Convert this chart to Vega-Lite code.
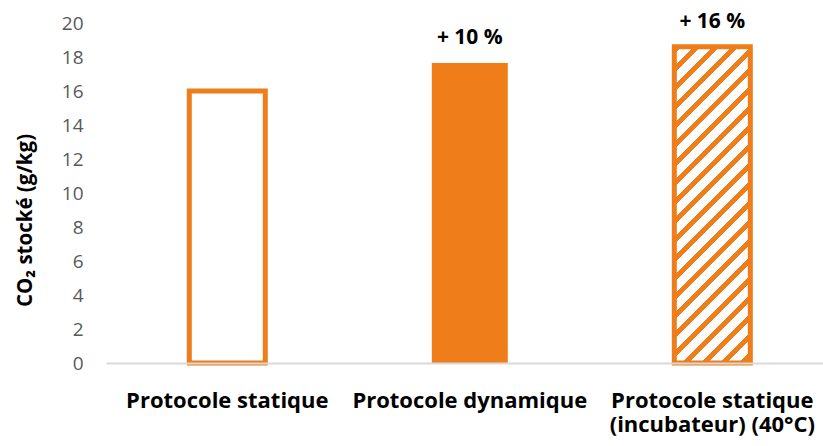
{
  "$schema": "https://vega.github.io/schema/vega-lite/v6.json",
  "width": 717,
  "height": 340,
  "autosize": {"type": "none"},
  "padding": {"left": 106, "top": 23, "right": 0, "bottom": 83},
  "background": "white",
  "config": {"view": {"stroke": null}, "font": "Open Sans"},
  "data": {"values": [
    {"protocole": "Protocole statique", "co2": 16.0, "label": ""},
    {"protocole": "Protocole dynamique", "co2": 17.65, "label": "+ 10 %"},
    {"protocole": "Protocole statique (incubateur) (40°C)", "co2": 18.6, "label": "+ 16 %"}
  ]},
  "encoding": {
    "x": {
      "field": "protocole", "type": "nominal", "sort": null,
      "scale": {"domain": ["Protocole statique", "Protocole dynamique", "Protocole statique (incubateur) (40°C)"], "paddingInner": 0.6866, "paddingOuter": 0.3216, "align": 0.534},
      "axis": {
        "title": null, "domain": true, "domainColor": "#D9D9D9", "domainWidth": 2,
        "ticks": false, "tickSize": 0, "labelAngle": 0,
        "labelFont": "Open Sans", "labelFontWeight": "bold", "labelFontSize": 22, "labelColor": "black",
        "labelPadding": 44, "labelBaseline": "alphabetic", "labelLineHeight": 24, "labelLimit": 0,
        "zindex": 1,
        "labelExpr": "datum.value == 'Protocole statique (incubateur) (40°C)' ? ['Protocole statique', '(incubateur) (40°C)'] : datum.value"
      }
    },
    "y": {
      "field": "co2", "type": "quantitative",
      "scale": {"domain": [0, 20], "nice": false},
      "axis": {
        "title": "CO₂ stocké (g/kg)", "domain": false, "ticks": false, "tickSize": 0, "grid": false,
        "values": [0, 2, 4, 6, 8, 10, 12, 14, 16, 18, 20],
        "labelFont": "Open Sans", "labelFontSize": 19, "labelColor": "#595959", "labelPadding": 23,
        "titleFont": "Open Sans", "titleFontWeight": "bold", "titleFontSize": 20.5, "titleColor": "black",
        "titleX": -75, "titleY": 197, "titleAngle": -90, "titleAlign": "center", "titleBaseline": "alphabetic"
      }
    }
  },
  "layer": [
    {
      "transform": [{"filter": "datum.protocole == 'Protocole statique'"}],
      "mark": {"type": "bar", "fill": "white", "stroke": "#EE7D1A", "strokeWidth": 5}
    },
    {
      "transform": [{"filter": "datum.protocole == 'Protocole dynamique'"}],
      "mark": {"type": "bar", "fill": "#EE7D1A", "strokeWidth": 0}
    },
    {
      "transform": [{"filter": "datum.protocole == 'Protocole statique (incubateur) (40°C)'"}],
      "mark": {
        "type": "bar", "stroke": "#EE7D1A", "strokeWidth": 5,
        "fill": {
          "gradient": "linear", "x1": 0, "y1": 0, "x2": 0.28184, "y2": 1.17262,
          "stops": [
            {"offset": 0, "color": "#EE7D1A"}, {"offset": 0.0194, "color": "#EE7D1A"}, {"offset": 0.0194, "color": "white"}, {"offset": 0.0484, "color": "white"},
            {"offset": 0.0484, "color": "#EE7D1A"}, {"offset": 0.0678, "color": "#EE7D1A"}, {"offset": 0.0678, "color": "white"}, {"offset": 0.0969, "color": "white"},
            {"offset": 0.0969, "color": "#EE7D1A"}, {"offset": 0.1163, "color": "#EE7D1A"}, {"offset": 0.1163, "color": "white"}, {"offset": 0.1453, "color": "white"},
            {"offset": 0.1453, "color": "#EE7D1A"}, {"offset": 0.1647, "color": "#EE7D1A"}, {"offset": 0.1647, "color": "white"}, {"offset": 0.1938, "color": "white"},
            {"offset": 0.1938, "color": "#EE7D1A"}, {"offset": 0.2132, "color": "#EE7D1A"}, {"offset": 0.2132, "color": "white"}, {"offset": 0.2422, "color": "white"},
            {"offset": 0.2422, "color": "#EE7D1A"}, {"offset": 0.2616, "color": "#EE7D1A"}, {"offset": 0.2616, "color": "white"}, {"offset": 0.2907, "color": "white"},
            {"offset": 0.2907, "color": "#EE7D1A"}, {"offset": 0.3100, "color": "#EE7D1A"}, {"offset": 0.3100, "color": "white"}, {"offset": 0.3391, "color": "white"},
            {"offset": 0.3391, "color": "#EE7D1A"}, {"offset": 0.3585, "color": "#EE7D1A"}, {"offset": 0.3585, "color": "white"}, {"offset": 0.3876, "color": "white"},
            {"offset": 0.3876, "color": "#EE7D1A"}, {"offset": 0.4069, "color": "#EE7D1A"}, {"offset": 0.4069, "color": "white"}, {"offset": 0.4360, "color": "white"},
            {"offset": 0.4360, "color": "#EE7D1A"}, {"offset": 0.4554, "color": "#EE7D1A"}, {"offset": 0.4554, "color": "white"}, {"offset": 0.4845, "color": "white"},
            {"offset": 0.4845, "color": "#EE7D1A"}, {"offset": 0.5038, "color": "#EE7D1A"}, {"offset": 0.5038, "color": "white"}, {"offset": 0.5329, "color": "white"},
            {"offset": 0.5329, "color": "#EE7D1A"}, {"offset": 0.5523, "color": "#EE7D1A"}, {"offset": 0.5523, "color": "white"}, {"offset": 0.5813, "color": "white"},
            {"offset": 0.5813, "color": "#EE7D1A"}, {"offset": 0.6007, "color": "#EE7D1A"}, {"offset": 0.6007, "color": "white"}, {"offset": 0.6298, "color": "white"},
            {"offset": 0.6298, "color": "#EE7D1A"}, {"offset": 0.6492, "color": "#EE7D1A"}, {"offset": 0.6492, "color": "white"}, {"offset": 0.6782, "color": "white"},
            {"offset": 0.6782, "color": "#EE7D1A"}, {"offset": 0.6976, "color": "#EE7D1A"}, {"offset": 0.6976, "color": "white"}, {"offset": 0.7267, "color": "white"},
            {"offset": 0.7267, "color": "#EE7D1A"}, {"offset": 0.7461, "color": "#EE7D1A"}, {"offset": 0.7461, "color": "white"}, {"offset": 0.7751, "color": "white"},
            {"offset": 0.7751, "color": "#EE7D1A"}, {"offset": 0.7945, "color": "#EE7D1A"}, {"offset": 0.7945, "color": "white"}, {"offset": 0.8236, "color": "white"},
            {"offset": 0.8236, "color": "#EE7D1A"}, {"offset": 0.8429, "color": "#EE7D1A"}, {"offset": 0.8429, "color": "white"}, {"offset": 0.8720, "color": "white"},
            {"offset": 0.8720, "color": "#EE7D1A"}, {"offset": 0.8914, "color": "#EE7D1A"}, {"offset": 0.8914, "color": "white"}, {"offset": 0.9205, "color": "white"},
            {"offset": 0.9205, "color": "#EE7D1A"}, {"offset": 0.9398, "color": "#EE7D1A"}, {"offset": 0.9398, "color": "white"}, {"offset": 0.9689, "color": "white"},
            {"offset": 0.9689, "color": "#EE7D1A"}, {"offset": 0.9883, "color": "#EE7D1A"}, {"offset": 0.9883, "color": "white"}, {"offset": 1, "color": "white"}
          ]
        }
      }
    },
    {
      "mark": {"type": "text", "font": "Open Sans", "fontWeight": "bold", "fontSize": 21, "fill": "black", "baseline": "alphabetic", "dy": -19},
      "encoding": {"text": {"field": "label"}}
    }
  ]
}
